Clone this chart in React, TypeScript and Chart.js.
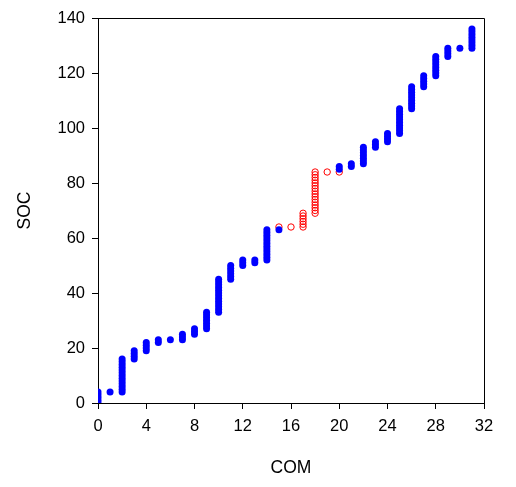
import React, { useEffect, useRef } from "react";
import { Chart, registerables } from "chart.js";

Chart.register(...registerables);

// COM values that carry blue (filled) observations, and the SOC values seen at each
const blueCOM = [0, 1, 2, 3, 4, 5, 6, 7, 8, 9, 10, 11, 12, 13, 14, 15, 20, 21, 22, 23, 24, 25, 26, 27, 28, 29, 30, 31];
const blueSOC = [
  [0, 1, 2, 3, 4],
  [4],
  [4, 5, 6, 7, 8, 9, 10, 11, 12, 13, 14, 15, 16],
  [16, 17, 18, 19],
  [19, 20, 21, 22],
  [22, 23],
  [23],
  [23, 24, 25],
  [25, 26, 27],
  [27, 28, 29, 30, 31, 32, 33],
  [33, 34, 35, 36, 37, 38, 39, 40, 41, 42, 43, 44, 45],
  [45, 46, 47, 48, 49, 50],
  [50, 51, 52],
  [51, 52],
  [52, 53, 54, 55, 56, 57, 58, 59, 60, 61, 62, 63],
  [63],
  [85, 86],
  [86, 87],
  [87, 88, 89, 90, 91, 92, 93],
  [93, 94, 95],
  [95, 96, 97, 98],
  [98, 99, 100, 101, 102, 103, 104, 105, 106, 107],
  [107, 108, 109, 110, 111, 112, 113, 114, 115],
  [115, 116, 117, 118, 119],
  [119, 120, 121, 122, 123, 124, 125, 126],
  [126, 127, 128, 129],
  [129],
  [129, 130, 131, 132, 133, 134, 135, 136],
];

// COM values that carry red (open) observations
const redCOM = [15, 16, 17, 18, 19, 20];
const redSOC = [
  [64],
  [64],
  [64, 65, 66, 67, 68, 69],
  [69, 70, 71, 72, 73, 74, 75, 76, 77, 78, 79, 80, 81, 82, 83, 84],
  [84],
  [84],
];

const xTicks = [0, 4, 8, 12, 16, 20, 24, 28, 32];
const yTicks = [0, 20, 40, 60, 80, 100, 120, 140];

const toPoints = (coms: number[], socs: number[][]) =>
  coms.flatMap((c, i) => socs[i].map((s) => ({ x: c, y: s })));

const FONT = "'Liberation Sans', Arial, Helvetica, sans-serif";

// Closes the plot frame on the top and right sides
const frameBox = {
  id: "frameBox",
  afterDatasetsDraw(chart: any) {
    const { ctx, chartArea } = chart;
    ctx.save();
    ctx.strokeStyle = "#000";
    ctx.lineWidth = 1;
    ctx.beginPath();
    ctx.moveTo(chartArea.left, chartArea.top + 0.5);
    ctx.lineTo(chartArea.right + 0.5, chartArea.top + 0.5);
    ctx.lineTo(chartArea.right + 0.5, chartArea.bottom);
    ctx.stroke();
    ctx.restore();
  },
};

export default function App() {
  const ref = useRef<HTMLCanvasElement>(null);

  useEffect(() => {
    if (!ref.current) return;
    const chart = new Chart(ref.current, {
      type: "scatter",
      data: {
        datasets: [
          {
            label: "blue",
            data: toPoints(blueCOM, blueSOC),
            pointRadius: 3.5,
            pointBorderWidth: 0,
            backgroundColor: "#0000ff",
            borderColor: "#0000ff",
            clip: 0,
          },
          {
            label: "red",
            data: toPoints(redCOM, redSOC),
            pointRadius: 3.2,
            pointBorderWidth: 1,
            backgroundColor: "rgba(0,0,0,0)",
            borderColor: "#ff0000",
            clip: 0,
          },
        ],
      },
      options: {
        animation: false,
        responsive: false,
        layout: { padding: { top: 10, right: 24, left: 0, bottom: 0 } },
        plugins: { legend: { display: false }, tooltip: { enabled: false } },
        scales: {
          x: {
            type: "linear",
            min: 0,
            max: 32,
            afterFit: (s: any) => {
              s.height = 76;
              s.paddingLeft = 0;
              s.paddingRight = 0;
            },
            afterBuildTicks: (s: any) => {
              s.ticks = xTicks.map((v) => ({ value: v }));
            },
            grid: {
              drawOnChartArea: false,
              drawTicks: true,
              tickLength: 6,
              tickColor: "#000",
              color: "#000",
            },
            border: { display: true, color: "#000", width: 1 },
            ticks: {
              color: "#000",
              font: { family: FONT, size: 16.5 },
              padding: 8,
              maxRotation: 0,
              autoSkip: false,
            },
            title: {
              display: true,
              text: "COM",
              color: "#000",
              font: { family: FONT, size: 17.5 },
              padding: { top: 0, bottom: 0.5 },
            },
          },
          y: {
            type: "linear",
            min: 0,
            max: 140,
            afterFit: (s: any) => {
              s.width = 90;
              s.paddingTop = 0;
              s.paddingBottom = 0;
            },
            afterBuildTicks: (s: any) => {
              s.ticks = yTicks.map((v) => ({ value: v }));
            },
            grid: {
              drawOnChartArea: false,
              drawTicks: true,
              tickLength: 6,
              tickColor: "#000",
              color: "#000",
            },
            border: { display: true, color: "#000", width: 1 },
            ticks: {
              color: "#000",
              font: { family: FONT, size: 16.5 },
              padding: 7,
              autoSkip: false,
            },
            title: {
              display: true,
              text: "SOC",
              color: "#000",
              font: { family: FONT, size: 17.5 },
              padding: { top: 6.5, bottom: 0 },
            },
          },
        },
      },
      plugins: [frameBox],
    });
    return () => chart.destroy();
  }, []);

  return <canvas ref={ref} width={500} height={471} style={{ display: "block" }} />;
}
